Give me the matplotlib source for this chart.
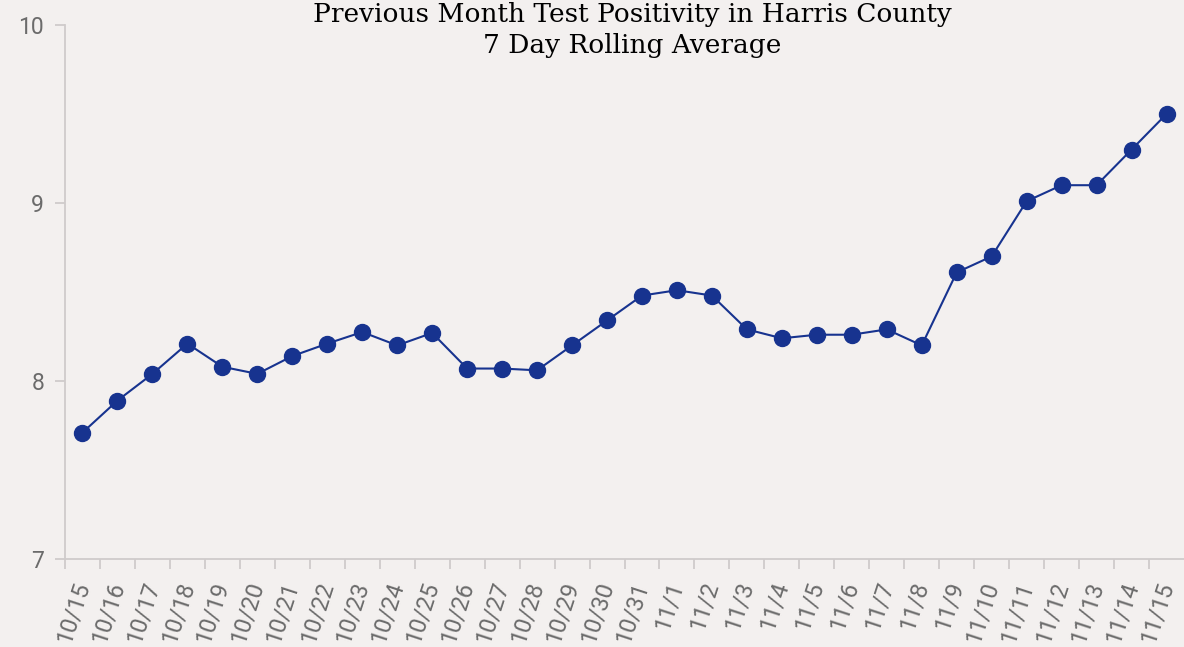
import matplotlib.pyplot as plt
import numpy as np

# 7 day rolling average test positivity (%), Harris County
dates = ['10/15', '10/16', '10/17', '10/18', '10/19', '10/20', '10/21', '10/22',
         '10/23', '10/24', '10/25', '10/26', '10/27', '10/28', '10/29', '10/30',
         '10/31', '11/1', '11/2', '11/3', '11/4', '11/5', '11/6', '11/7',
         '11/8', '11/9', '11/10', '11/11', '11/12', '11/13', '11/14', '11/15']
positivity = [7.71, 7.89, 8.04, 8.21, 8.08, 8.04, 8.14, 8.21,
              8.275, 8.20, 8.27, 8.07, 8.07, 8.06, 8.20, 8.34,
              8.48, 8.51, 8.48, 8.29, 8.24, 8.26, 8.26, 8.29,
              8.20, 8.61, 8.70, 9.01, 9.10, 9.10, 9.30, 9.50]
y_ticks = [7, 8, 9, 10]

bg = '#f3f0ef'
line_color = '#17338f'
axis_color = '#cfcbcb'
label_color = '#6b6b6b'

fig = plt.figure(figsize=(11.84, 6.47), dpi=100, facecolor=bg)
ax = fig.add_axes([65 / 1184, 1 - 559 / 647, 1 - 65 / 1184, (559 - 25) / 647])
ax.set_facecolor(bg)

x = np.arange(len(dates)) + 0.5
ax.plot(x, positivity, color=line_color, linewidth=1.5, marker='o',
        markersize=11.5, markerfacecolor=line_color, markeredgecolor=line_color,
        clip_on=False, zorder=3)

ax.set_xlim(0, 32.0)
ax.set_ylim(7, 10)

ax.set_xticks(np.arange(len(dates)))
ax.set_xticklabels([])
ax.set_xticks(x, minor=True)
ax.set_xticklabels(dates, minor=True, rotation=72, ha='right', va='center',
                   rotation_mode='anchor', fontsize=17, color=label_color,
                   fontfamily='Roboto')
ax.tick_params(axis='x', which='major', length=7, color=axis_color, width=1.3)
ax.tick_params(axis='x', which='minor', length=0, pad=17)

ax.set_yticks(y_ticks)
ax.set_yticklabels([str(v) for v in y_ticks], fontsize=16.5, color=label_color,
                   fontfamily='Roboto')
ax.tick_params(axis='y', length=7, color=axis_color, width=1.3, pad=8)

for side in ['top', 'right']:
    ax.spines[side].set_visible(False)
for side in ['left', 'bottom']:
    ax.spines[side].set_color(axis_color)
    ax.spines[side].set_linewidth(1.3)

fig.text(632 / 1184, 1 - 30 / 647,
         'Previous Month Test Positivity in Harris County\n7 Day Rolling Average',
         ha='center', va='center', fontsize=19, fontfamily='DejaVu Serif',
         color='black', linespacing=1.3)

fig.savefig('out.png', dpi=100, facecolor=bg)
